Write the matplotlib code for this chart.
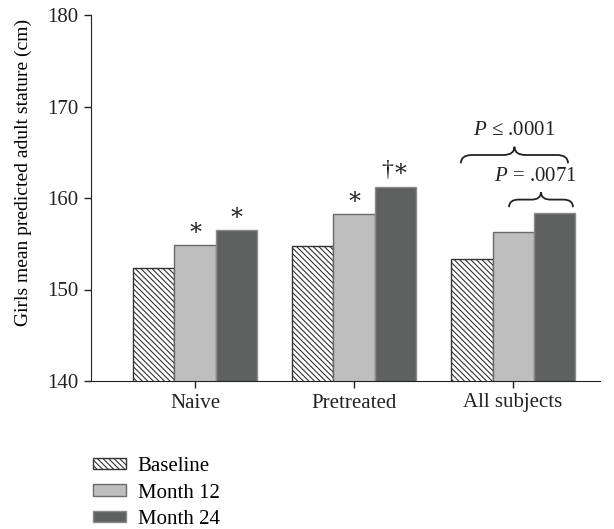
import matplotlib
matplotlib.use("Agg")
import matplotlib.pyplot as plt
import numpy as np
from matplotlib.path import Path
from matplotlib.patches import PathPatch

plt.rcParams['font.family'] = ['Liberation Serif', 'DejaVu Serif']
plt.rcParams['font.size'] = 15
plt.rcParams['mathtext.fontset'] = 'custom'
plt.rcParams['mathtext.it'] = 'Liberation Serif:italic'
plt.rcParams['mathtext.rm'] = 'Liberation Serif'
plt.rcParams['hatch.linewidth'] = 0.8

# data (cm)
groups = ["Naive", "Pretreated", "All subjects"]
series = ["Baseline", "Month 12", "Month 24"]
baseline = [152.3, 154.8, 153.3]
month12 = [154.9, 158.3, 156.3]
month24 = [156.5, 161.2, 158.4]

# significance marks above bars: (group, series, text)
marks = [(0, 1, "\u2217"), (0, 2, "\u2217"), (1, 1, "\u2217"), (1, 2, "\u2020\u2217")]


# -------------------------
# curly brace helper
# -------------------------
def brace(ax, x0, x1, y0, h, w):
    xm = (x0 + x1) / 2
    ym = y0 + h / 2
    verts = [(x0, y0), (x0, ym), (x0 + w, ym),
             (xm - w, ym), (xm, ym), (xm, y0 + h),
             (xm, ym), (xm + w, ym),
             (x1 - w, ym), (x1, ym), (x1, y0)]
    codes = [Path.MOVETO, Path.CURVE3, Path.CURVE3,
             Path.LINETO, Path.CURVE3, Path.CURVE3,
             Path.CURVE3, Path.CURVE3,
             Path.LINETO, Path.CURVE3, Path.CURVE3]
    ax.add_patch(PathPatch(Path(verts, codes), fill=False, lw=1.3, color="#222222"))


fig = plt.figure(figsize=(6.14, 5.29), dpi=100)
ax = fig.add_axes([91/614, 1-381/529, (600-91)/614, (381-15)/529])

x = np.arange(len(groups))
width = 0.258

b1 = ax.bar(x - width, baseline, width, color="white", edgecolor="#333333",
            hatch="\\\\\\\\\\\\", linewidth=1.0, label=series[0])
b2 = ax.bar(x, month12, width, color="#bebebe", edgecolor="#6a6a6a", linewidth=1.0, label=series[1])
b3 = ax.bar(x + width, month24, width, color="#5f6060", edgecolor="#8a8a8a", linewidth=1.0, label=series[2])

vals = [baseline, month12, month24]
for g, s, t in marks:
    ax.text(x[g] + (s - 1) * width, vals[s][g] + 1.8, t, ha="center", va="center",
            fontsize=17, color="#222222")

# braces for All subjects
brace(ax, x[2] - width - 0.07, x[2] + width + 0.088, 163.8, 1.8, 0.07)
ax.text(x[2] + 0.006, 167.4, "$P$ \u2264 .0001", ha="center", va="center", color="#222222")
brace(ax, x[2] - 0.025, x[2] + width + 0.119, 159.0, 1.65, 0.06)
ax.text(x[2] + 0.14, 162.3, "$P$ = .0071", ha="center", va="center", color="#222222")

ax.set_xlim(-0.654, 2.547)
ax.set_ylim(140, 180)
ax.set_yticks([140, 150, 160, 170, 180])
ax.set_xticks(x)
ax.set_xticklabels(groups)
ax.set_ylabel("Girls mean predicted adult stature (cm)", fontsize=14)
ax.yaxis.set_label_coords(-0.115, 0.571)
ax.spines["top"].set_visible(False)
ax.spines["right"].set_visible(False)
ax.spines["left"].set_color("#222222")
ax.spines["bottom"].set_color("#222222")
ax.tick_params(direction="out", length=5, width=1, pad=4, colors="#222222")

fig.legend(handles=[b1, b2, b3], labels=series, loc="upper left",
           bbox_to_anchor=(93/614, 1-457/529), frameon=False, borderpad=0,
           borderaxespad=0, handlelength=1.6, handleheight=0.48,
           handletextpad=0.55, labelspacing=0.36)

fig.savefig("out.png", dpi=100)
